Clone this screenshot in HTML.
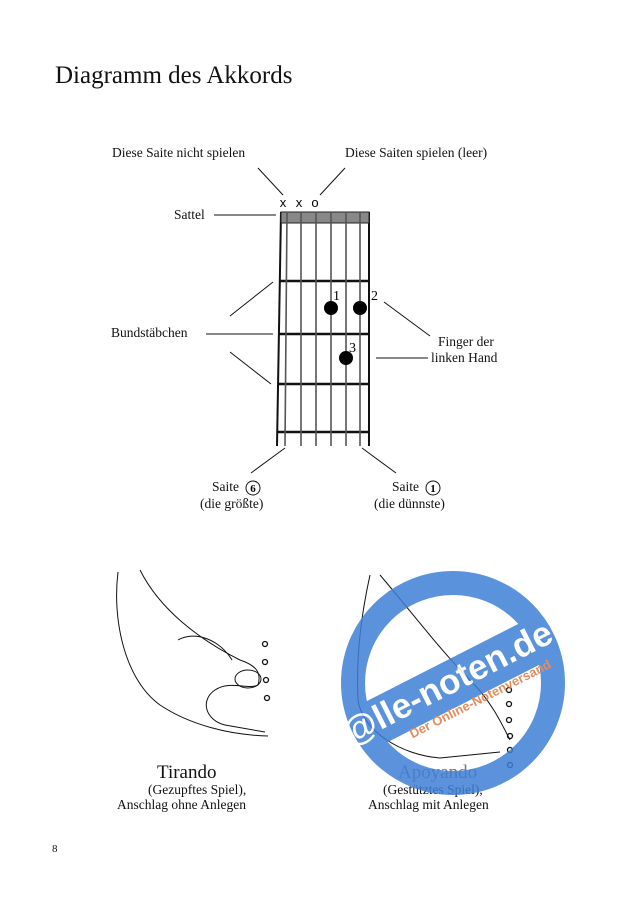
<!DOCTYPE html>
<html><head><meta charset="utf-8"><style>
body{margin:0;background:#fff;width:640px;height:905px;overflow:hidden;position:relative;font-family:"Liberation Serif",serif;color:#111}
.t{position:absolute;white-space:nowrap}
</style></head><body>
<div class="t" style="left:55px;top:62px;font-size:25px">Diagramm des Akkords</div>
<div class="t" style="left:112px;top:145px;font-size:13.5px">Diese Saite nicht spielen</div>
<div class="t" style="left:345px;top:145px;font-size:13.5px">Diese Saiten spielen (leer)</div>
<div class="t" style="left:174px;top:207px;font-size:13.5px">Sattel</div>
<div class="t" style="left:111px;top:325px;font-size:13.5px">Bundstäbchen</div>
<div class="t" style="left:438px;top:334px;font-size:13.5px">Finger der</div>
<div class="t" style="left:431px;top:350px;font-size:13.5px">linken Hand</div>
<div class="t" style="left:212px;top:479px;font-size:13.5px">Saite</div>
<div class="t" style="left:200px;top:496px;font-size:13.5px">(die größte)</div>
<div class="t" style="left:392px;top:479px;font-size:13.5px">Saite</div>
<div class="t" style="left:374px;top:496px;font-size:13.5px">(die dünnste)</div>
<div class="t" style="left:157px;top:762px;font-size:19px">Tirando</div>
<div class="t" style="left:148px;top:782px;font-size:13.5px">(Gezupftes Spiel),</div>
<div class="t" style="left:117px;top:797px;font-size:13.5px">Anschlag ohne Anlegen</div>
<div class="t" style="left:398px;top:762px;font-size:19px;color:#777">Apoyando</div>
<div class="t" style="left:383px;top:782px;font-size:13.5px">(Gestütztes Spiel),</div>
<div class="t" style="left:368px;top:797px;font-size:13.5px">Anschlag mit Anlegen</div>
<div class="t" style="left:52px;top:843px;font-size:11px">8</div>
<svg width="640" height="905" style="position:absolute;left:0;top:0" font-family="Liberation Serif">
<g stroke="#111" stroke-width="1" fill="none">
<line x1="258" y1="168" x2="283" y2="195"/><line x1="345" y1="168" x2="320" y2="195"/>
<line x1="214" y1="215" x2="276" y2="215"/>
<line x1="230" y1="316" x2="273" y2="282"/><line x1="206" y1="334" x2="273" y2="334"/><line x1="230" y1="352" x2="271" y2="384"/>
<line x1="384" y1="302" x2="430" y2="336"/><line x1="376" y1="358" x2="428" y2="358"/>
<line x1="251" y1="473" x2="285" y2="448"/><line x1="362" y1="448" x2="396" y2="473"/>
<line x1="281" y1="212" x2="277" y2="446" stroke-width="2"/>
<line x1="369" y1="212" x2="369" y2="446" stroke-width="2"/>
<rect x="281" y="212" width="88" height="11" fill="#888" stroke="#222"/>
<line x1="280" y1="281" x2="369" y2="281" stroke-width="2.5"/>
<line x1="279" y1="334" x2="369" y2="334" stroke-width="2.5"/>
<line x1="278" y1="384" x2="369" y2="384" stroke-width="2.5"/>
<line x1="277" y1="432" x2="369" y2="432" stroke-width="2.5"/>
<g stroke="#555" stroke-width="1.6">
<line x1="287" y1="212" x2="285" y2="446"/><line x1="301" y1="212" x2="301" y2="446"/><line x1="316" y1="212" x2="316" y2="446"/>
<line x1="331" y1="212" x2="331" y2="446"/><line x1="346" y1="212" x2="346" y2="446"/><line x1="360" y1="212" x2="360" y2="446"/>
</g>
<path d="M118 572 C112 620 125 680 160 705 C190 725 230 735 268 736 M140 570 C160 610 200 640 240 660 C255 665 262 672 258 685 C248 690 230 680 215 690 C200 700 205 720 225 725 L265 732"/>
<path d="M178 640 C195 630 220 640 232 660"/>
<ellipse cx="248" cy="679" rx="13" ry="9"/>
<path d="M370 575 C360 620 356 660 358 700 C362 730 400 755 440 758 L500 752 M380 575 C410 610 440 650 470 680 C490 700 500 720 510 740"/>
<g fill="none" stroke-width="1.3"><circle cx="265" cy="644" r="2.5"/><circle cx="265" cy="662" r="2.5"/><circle cx="266" cy="680" r="2.5"/><circle cx="267" cy="698" r="2.5"/>
<circle cx="509" cy="690" r="2.5"/><circle cx="509" cy="704" r="2.5"/><circle cx="509" cy="720" r="2.5"/><circle cx="510" cy="736" r="2.5"/><circle cx="510" cy="750" r="2.5"/><circle cx="510" cy="765" r="2.5"/></g>
</g>
<text x="283" y="207" font-family="Liberation Sans" font-size="13" text-anchor="middle">x</text>
<text x="299" y="207" font-family="Liberation Sans" font-size="13" text-anchor="middle">x</text>
<text x="315" y="207" font-family="Liberation Sans" font-size="13" text-anchor="middle">o</text>
<circle cx="331" cy="308" r="7" fill="#000"/><circle cx="360" cy="308" r="7" fill="#000"/><circle cx="346" cy="358" r="7" fill="#000"/>
<text x="333" y="300" font-size="14">1</text><text x="371" y="300" font-size="14">2</text><text x="349" y="352" font-size="14">3</text>
<circle cx="253" cy="488" r="7" fill="none" stroke="#111"/><text x="253" y="492" font-size="11" text-anchor="middle" font-weight="bold">6</text>
<circle cx="433" cy="488" r="7" fill="none" stroke="#111"/><text x="433" y="492" font-size="11" text-anchor="middle" font-weight="bold">1</text>
<g opacity="0.85">
<circle cx="453" cy="683" r="100" fill="none" stroke="#3f7fd6" stroke-width="24"/>
<g transform="rotate(-27 453 683)">
<rect x="345" y="660" width="216" height="46" fill="#3f7fd6"/>
<text x="448" y="692" font-family="Liberation Sans" font-size="35" font-weight="bold" fill="#fff" text-anchor="middle">@lle-noten.de</text>
<text x="470" y="714" font-family="Liberation Sans" font-size="13" font-weight="bold" fill="#e07a40" text-anchor="middle">Der Online-Notenversand</text>
</g>
</g>
</svg>
</body></html>
